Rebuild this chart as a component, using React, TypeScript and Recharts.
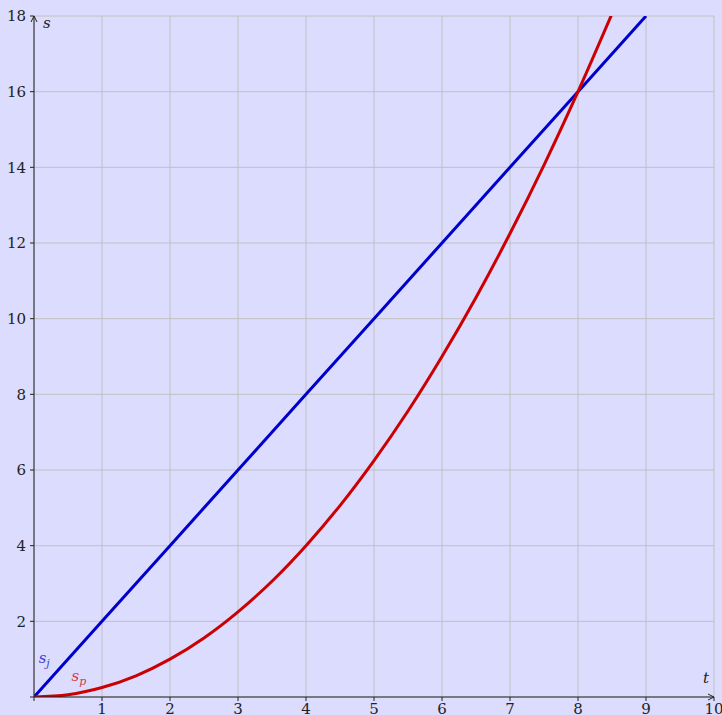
import React from "react";
import { LineChart, Line, XAxis, YAxis, CartesianGrid, ReferenceDot } from "recharts";

const blueT = [0, 1, 2, 3, 4, 5, 6, 7, 8, 9];
const blueS = [0, 2, 4, 6, 8, 10, 12, 14, 16, 18];
const redT = [0, 0.5, 1, 1.5, 2, 2.5, 3, 3.5, 4, 4.5, 5, 5.5, 6, 6.5, 7, 7.5, 8, 8.5];
const redS = [0, 0.06, 0.25, 0.56, 1, 1.56, 2.25, 3.06, 4, 5.06, 6.25, 7.56, 9, 10.56, 12.25, 14.06, 16, 18.06];
const xTicks = [0, 1, 2, 3, 4, 5, 6, 7, 8, 9, 10];
const yTicks = [0, 2, 4, 6, 8, 10, 12, 14, 16, 18];

const blueData = blueT.map((t, i) => ({ t, s: blueS[i] }));
const redData = redT.map((t, i) => ({ t, s: redS[i] }));

const FONT = "DejaVu Serif";
const AXIS = "#222";

const ArrowUp = (p: any) => (
  <path d={`M${p.cx - 3},${p.cy + 6} L${p.cx},${p.cy} L${p.cx + 3},${p.cy + 6}`} fill="none" stroke={AXIS} strokeWidth={1} />
);
const ArrowRight = (p: any) => (
  <path d={`M${p.cx - 6},${p.cy - 3} L${p.cx},${p.cy} L${p.cx - 6},${p.cy + 3}`} fill="none" stroke={AXIS} strokeWidth={1} />
);
const LabelS = (p: any) => (
  <text x={p.cx + 9} y={p.cy + 12} style={{ fontFamily: FONT, fontStyle: "italic", fontSize: 15 }} fill="#222">s</text>
);
const LabelT = (p: any) => (
  <text x={p.cx - 11} y={p.cy - 14} style={{ fontFamily: FONT, fontStyle: "italic", fontSize: 15 }} fill="#222">t</text>
);
const LabelSj = (p: any) => (
  <text x={p.cx} y={p.cy + 4} textAnchor="middle" style={{ fontFamily: FONT, fontStyle: "italic", fontSize: 15 }} fill="#3c3cd8">
    s<tspan style={{ fontSize: 11 }} dy={4}>j</tspan>
  </text>
);
const LabelSp = (p: any) => (
  <text x={p.cx} y={p.cy + 4} textAnchor="middle" style={{ fontFamily: FONT, fontStyle: "italic", fontSize: 15 }} fill="#d83c3c">
    s<tspan style={{ fontSize: 11 }} dy={4}>p</tspan>
  </text>
);

export default function App() {
  return (
    <div style={{ position: "absolute", left: 0, top: 0, width: 722, height: 715, background: "#dcdcfe", overflow: "hidden", fontFamily: FONT }}>
      <LineChart width={722} height={715} margin={{ top: 16, right: 8, left: 0, bottom: 0 }} style={{ fontFamily: FONT }}>
        <CartesianGrid stroke="#c0c0c0" strokeWidth={1} />
        <XAxis
          dataKey="t"
          type="number"
          domain={[0, 10]}
          ticks={xTicks}
          allowDataOverflow
          height={18}
          tickSize={4}
          tickMargin={2}
          tickFormatter={(v: number) => (v === 0 ? "" : String(v))}
          tick={{ fontFamily: FONT, fontSize: 15, fill: "#222" }}
          stroke={AXIS}
        />
        <YAxis
          dataKey="s"
          type="number"
          domain={[0, 18]}
          ticks={yTicks}
          allowDataOverflow
          width={34}
          tickSize={4}
          tickMargin={4}
          tickFormatter={(v: number) => (v === 0 ? "" : String(v))}
          tick={{ fontFamily: FONT, fontSize: 15, fill: "#222" }}
          stroke={AXIS}
        />
        <Line data={blueData} dataKey="s" type="linear" stroke="#0000cc" strokeWidth={3} dot={false} isAnimationActive={false} />
        <Line data={redData} dataKey="s" type="monotone" stroke="#cc0000" strokeWidth={3} dot={false} isAnimationActive={false} />
        <ReferenceDot x={0} y={18} r={0} ifOverflow="visible" shape={ArrowUp} />
        <ReferenceDot x={10} y={0} r={0} ifOverflow="visible" shape={ArrowRight} />
        <ReferenceDot x={0} y={18} r={0} ifOverflow="visible" shape={LabelS} />
        <ReferenceDot x={10} y={0} r={0} ifOverflow="visible" shape={LabelT} />
        <ReferenceDot x={0.15} y={1.0} r={0} ifOverflow="visible" shape={LabelSj} />
        <ReferenceDot x={0.66} y={0.53} r={0} ifOverflow="visible" shape={LabelSp} />
      </LineChart>
    </div>
  );
}
